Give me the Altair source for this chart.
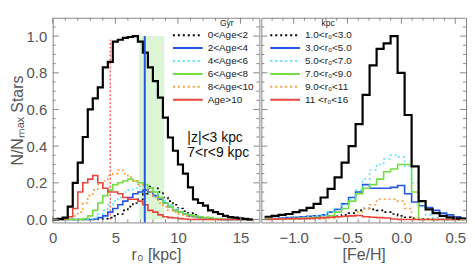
import altair as alt
import pandas as pd

# ---------------- left panel : r0 distributions (bins of 0.4 kpc) ----------------
R0_BIN_START = 0.0
R0_BIN_WIDTH = 0.4
r0_all = [0.0, 0.003, 0.01, 0.07, 0.2, 0.31, 0.45, 0.6, 0.66, 0.72, 0.83, 0.86, 0.97, 0.98,
          0.99, 0.995, 1.0, 0.97, 0.91, 0.83, 0.755, 0.665, 0.556, 0.447, 0.375, 0.30, 0.25,
          0.175, 0.11, 0.09, 0.076, 0.05, 0.04, 0.03, 0.02, 0.013, 0.01, 0.006, 0.003, 0.0]
r0_age_0_2 = [0, 0, 0, 0, 0, 0, 0, 0, 0, 0.003, 0.005, 0.01, 0.02, 0.03, 0.05, 0.07, 0.09, 0.11,
              0.14, 0.18, 0.17, 0.15, 0.12, 0.10, 0.08, 0.06, 0.045, 0.035, 0.025, 0.015, 0.01,
              0.007, 0.004, 0, 0, 0, 0, 0, 0, 0]
r0_age_2_4 = [0, 0, 0, 0, 0, 0, 0, 0, 0.003, 0.01, 0.02, 0.04, 0.06, 0.08, 0.10, 0.12, 0.14,
              0.15, 0.16, 0.15, 0.13, 0.11, 0.09, 0.07, 0.05, 0.04, 0.03, 0.02, 0.015, 0.01,
              0.008, 0.005, 0.003, 0, 0, 0, 0, 0, 0, 0]
r0_age_4_6 = [0, 0, 0, 0, 0, 0, 0, 0.003, 0.01, 0.03, 0.05, 0.08, 0.10, 0.12, 0.15, 0.16, 0.17,
              0.18, 0.18, 0.17, 0.15, 0.12, 0.10, 0.08, 0.06, 0.04, 0.03, 0.025, 0.02, 0.015,
              0.01, 0.008, 0.005, 0.003, 0, 0, 0, 0, 0, 0]
r0_age_6_8 = [0, 0, 0, 0, 0, 0, 0.005, 0.02, 0.05, 0.09, 0.13, 0.16, 0.19, 0.20, 0.21, 0.22,
              0.21, 0.20, 0.19, 0.17, 0.15, 0.12, 0.09, 0.07, 0.05, 0.04, 0.03, 0.025, 0.02,
              0.015, 0.01, 0.01, 0.005, 0.003, 0, 0, 0, 0, 0, 0]
r0_age_8_10 = [0, 0, 0.003, 0.01, 0.02, 0.04, 0.09, 0.13, 0.16, 0.19, 0.21, 0.24, 0.25, 0.27,
               0.25, 0.23, 0.21, 0.19, 0.17, 0.15, 0.12, 0.09, 0.07, 0.05, 0.04, 0.03, 0.02,
               0.015, 0.01, 0.005, 0.003, 0, 0, 0, 0, 0, 0, 0, 0, 0]
r0_age_10 = [0, 0, 0.005, 0.015, 0.06, 0.15, 0.20, 0.22, 0.24, 0.20, 0.17, 0.15, 0.15, 0.14,
             0.12, 0.11, 0.11, 0.10, 0.08, 0.05, 0.04, 0.025, 0.015, 0.01, 0.008, 0.005, 0.003,
             0, 0, 0, 0, 0, 0, 0, 0, 0, 0, 0, 0, 0]
age_labels = ["0<Age<2", "2<Age<4", "4<Age<6", "6<Age<8", "8<Age<10", "Age>10"]
age_series = [r0_age_0_2, r0_age_2_4, r0_age_4_6, r0_age_6_8, r0_age_8_10, r0_age_10]

# markers / notes of the left panel
red_line_r0 = [4.6]
red_line_top = [0.98]
blue_line_r0 = [7.35]
band_r0 = [6.9, 8.9]
band_top = [1.0]
annot_text = ["|z|<3 kpc", "7<r<9 kpc"]
annot_r0 = [10.75, 10.75]
annot_frac = [0.445, 0.36]
age_header = ["Gyr"]
age_header_r0 = [13.9]
header_frac = [1.073]

# ---------------- right panel : [Fe/H] distributions (bins of 0.065 dex) ----------------
FEH_BIN_START = -1.27
FEH_BIN_WIDTH = 0.065
feh_all = [0.015, 0.02, 0.025, 0.03, 0.04, 0.05, 0.063, 0.085, 0.12, 0.167, 0.23, 0.31, 0.40,
           0.52, 0.68, 0.84, 0.93, 0.96, 1.0, 0.8, 0.57, 0.29, 0.10, 0.055, 0.035, 0.02, 0.012,
           0.006, 0.003]
feh_r_1_3 = [0.002, 0.002, 0.003, 0.003, 0.004, 0.005, 0.005, 0.006, 0.008, 0.012, 0.018, 0.025,
             0.035, 0.05, 0.06, 0.055, 0.05, 0.04, 0.03, 0.02, 0.012, 0.006, 0.003, 0.002,
             0, 0, 0, 0, 0]
feh_r_3_5 = [0.005, 0.005, 0.008, 0.01, 0.012, 0.015, 0.018, 0.02, 0.025, 0.04, 0.055, 0.085,
             0.12, 0.15, 0.19, 0.17, 0.17, 0.17, 0.175, 0.185, 0.14, 0.095, 0.075, 0.065, 0.05,
             0.035, 0.025, 0.015, 0.008]
feh_r_5_7 = [0.003, 0.005, 0.005, 0.008, 0.01, 0.012, 0.015, 0.02, 0.025, 0.04, 0.06, 0.08,
             0.11, 0.16, 0.22, 0.27, 0.30, 0.33, 0.35, 0.34, 0.29, 0.20, 0.07, 0.025, 0.01,
             0.005, 0.003, 0, 0]
feh_r_7_9 = [0.002, 0.003, 0.003, 0.004, 0.005, 0.006, 0.008, 0.01, 0.012, 0.02, 0.04, 0.06,
             0.10, 0.14, 0.17, 0.19, 0.22, 0.26, 0.275, 0.30, 0.30, 0.15, 0, 0, 0, 0, 0, 0, 0]
feh_r_9_11 = [0.001, 0.001, 0.002, 0.002, 0.002, 0.003, 0.003, 0.003, 0.004, 0.006, 0.01, 0.015,
              0.02, 0.04, 0.06, 0.08, 0.11, 0.11, 0.11, 0.10, 0.06, 0.005, 0, 0, 0, 0, 0, 0, 0]
feh_r_11_16 = [0, 0.002, 0.003, 0.004, 0.005, 0.005, 0.006, 0.008, 0.01, 0.012, 0.015, 0.018,
               0.02, 0.022, 0.015, 0.012, 0.01, 0.008, 0.003, 0, 0, 0, 0, 0, 0, 0, 0, 0, 0]
r0_labels = ["1.0<r₀<3.0", "3.0<r₀<5.0", "5.0<r₀<7.0", "7.0<r₀<9.0", "9.0<r₀<11", "11 <r₀<16"]
feh_series = [feh_r_1_3, feh_r_3_5, feh_r_5_7, feh_r_7_9, feh_r_9_11, feh_r_11_16]
r0_header = ["kpc"]
r0_header_feh = [-0.68]

# ---------------- axes / ticks ----------------
left_x_major = [0, 5, 10, 15]
left_x_minor = [1, 2, 3, 4, 6, 7, 8, 9, 11, 12, 13, 14, 16]
right_x_major = [-1.0, -0.5, 0.0, 0.5]
right_x_minor = [-1.2, -1.1, -0.9, -0.8, -0.7, -0.6, -0.4, -0.3, -0.2, -0.1, 0.1, 0.2, 0.3, 0.4]
y_major = [0.0, 0.2, 0.4, 0.6, 0.8, 1.0]
y_minor = [0.05, 0.1, 0.15, 0.25, 0.3, 0.35, 0.45, 0.5, 0.55, 0.65, 0.7, 0.75, 0.85, 0.9,
           0.95, 1.05]

series_colors = ["#000000", "#2456e0", "#5fe3f7", "#74de45", "#f7a03c", "#e8453c"]
series_dashes = [[2, 3], [1, 0], [2, 3], [1, 0], [2, 3], [1, 0]]

FONT = "Liberation Sans"
TICK_COLOR = "#888888"
LABEL_COLOR = "#555555"
W_L, W_R, H = 208, 206, 206


def hist_rows(values, start, width, label):
    rows = [{"x": start + i * width, "y": v, "series": label} for i, v in enumerate(values)]
    rows.append({"x": start + len(values) * width, "y": values[-1], "series": label})
    return rows


x_left = alt.Scale(domain=[0, 16.5], nice=False, zero=False)
x_right = alt.Scale(domain=[-1.3, 0.6], nice=False, zero=False)
y_scale = alt.Scale(domain=[-0.016, 1.10], nice=False, zero=False)

common_axis = dict(ticks=False, domain=False, grid=False, labelFlush=False,
                   labelFontSize=15, labelColor=LABEL_COLOR, titleFontSize=16,
                   titleColor=LABEL_COLOR, titleFontWeight="normal", labelFont=FONT,
                   titleFont=FONT)
ax_left_x = alt.Axis(values=left_x_major, format="d", title="r₀ [kpc]", labelPadding=8,
                     titlePadding=1, **common_axis)
ax_right_x = alt.Axis(values=right_x_major, format=".1f", title="[Fe/H]", labelPadding=8,
                      titlePadding=1, **common_axis)
ax_left_y = alt.Axis(values=y_major, format=".1f", title="N/Nₘₐₓ Stars", labelPadding=6,
                     titlePadding=1, **common_axis)


def legend(x):
    return alt.Legend(title=None, orient="none", legendX=x, legendY=12, symbolType="stroke",
                      symbolSize=900, symbolStrokeWidth=2, clipHeight=11, rowPadding=2,
                      labelFontSize=10, labelFont=FONT, labelColor="#222222",
                      labelOffset=4, padding=0)


def make_panel(all_vals, series, labels, start, width, xscale, xaxis, yaxis, leg, W,
               x_major, x_minor, header, header_x, extra_back=(), extra_front=()):
    def X(field):
        return alt.X(field, scale=xscale, axis=xaxis)

    def Y(field):
        return alt.Y(field, scale=y_scale, axis=yaxis)

    rows = []
    for lab, vals in zip(labels, series):
        rows += hist_rows(vals, start, width, lab)
    df_series = pd.DataFrame(rows)
    df_all = pd.DataFrame(hist_rows(all_vals, start, width, "all"))
    lines = alt.Chart(df_series).mark_line(interpolate="step-after", strokeWidth=1.6,
                                           clip=True).encode(
        x=X("x:Q"), y=Y("y:Q"),
        color=alt.Color("series:N", scale=alt.Scale(domain=labels, range=series_colors),
                        legend=leg),
        strokeDash=alt.StrokeDash("series:N",
                                  scale=alt.Scale(domain=labels, range=series_dashes),
                                  legend=leg),
    )
    total = alt.Chart(df_all).mark_line(interpolate="step-after", strokeWidth=2.2,
                                        color="#000000", clip=True).encode(
        x=X("x:Q"), y=Y("y:Q"))
    head = alt.Chart(pd.DataFrame({"x": header_x, "y": header_frac, "t": header})).mark_text(
        align="center", baseline="middle", fontSize=8.5, font=FONT, color="#222222").encode(
        x=X("x:Q"), y=Y("y:Q"), text="t:N")

    ticks = []
    for vals, length in ((y_major, 6), (y_minor, 3)):
        base = alt.Chart(pd.DataFrame({"v": vals})).mark_rule(color=TICK_COLOR, strokeWidth=1)
        ticks.append(base.encode(y=Y("v:Q"), x=alt.value(0), x2=alt.value(length)))
        ticks.append(base.encode(y=Y("v:Q"), x=alt.value(W), x2=alt.value(W - length)))
    for vals, length in ((x_major, 6), (x_minor, 3)):
        base = alt.Chart(pd.DataFrame({"v": vals})).mark_rule(color=TICK_COLOR, strokeWidth=1)
        ticks.append(base.encode(x=X("v:Q"), y=alt.value(H), y2=alt.value(H - length)))
        ticks.append(base.encode(x=X("v:Q"), y=alt.value(0), y2=alt.value(length)))

    back = [f(X, Y) for f in extra_back]
    front = [f(X, Y) for f in extra_front]
    return alt.layer(*back, lines, total, *front, head, *ticks).properties(width=W, height=H)


def band_layer(X, Y):
    df = pd.DataFrame({"lo": [band_r0[0]], "hi": [band_r0[1]], "b": [0.0], "t": band_top})
    return alt.Chart(df).mark_rect(color="#dcf5d4").encode(
        x=X("lo:Q"), x2="hi:Q", y=Y("b:Q"), y2="t:Q")


def red_layer(X, Y):
    df = pd.DataFrame({"x": red_line_r0, "b": [0.0], "t": red_line_top})
    return alt.Chart(df).mark_rule(color="#f06060", strokeWidth=1.5, strokeDash=[2, 2]).encode(
        x=X("x:Q"), y=Y("b:Q"), y2="t:Q")


def blue_layer(X, Y):
    df = pd.DataFrame({"x": blue_line_r0, "b": [-0.016], "t": [1.0]})
    return alt.Chart(df).mark_rule(color="#2456e0", strokeWidth=2).encode(
        x=X("x:Q"), y=Y("b:Q"), y2="t:Q")


def annot_layer(X, Y):
    df = pd.DataFrame({"x": annot_r0, "y": annot_frac, "t": annot_text})
    return alt.Chart(df).mark_text(align="left", baseline="middle", fontSize=14, font=FONT,
                                   color="#111111").encode(x=X("x:Q"), y=Y("y:Q"), text="t:N")


left = make_panel(r0_all, age_series, age_labels, R0_BIN_START, R0_BIN_WIDTH, x_left,
                  ax_left_x, ax_left_y, legend(120), W_L, left_x_major, left_x_minor,
                  age_header, age_header_r0,
                  extra_back=(band_layer, red_layer), extra_front=(blue_layer, annot_layer))
right = make_panel(feh_all, feh_series, r0_labels, FEH_BIN_START, FEH_BIN_WIDTH, x_right,
                   ax_right_x, None, legend(8), W_R, right_x_major, right_x_minor,
                   r0_header, r0_header_feh)

chart = alt.hconcat(left, right, spacing=0).resolve_scale(
    color="independent", strokeDash="independent", x="independent", y="independent"
).properties(padding={"left": 0, "top": 8, "right": 0, "bottom": 0}).configure(
    font=FONT).configure_view(stroke=TICK_COLOR, strokeWidth=1)

chart.save("out.html", embed_options={"renderer": "svg", "actions": False})
